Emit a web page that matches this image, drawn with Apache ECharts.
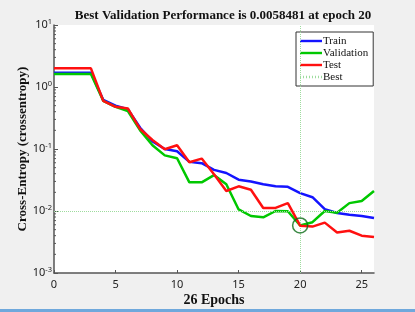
<!DOCTYPE html>
<html>
<head>
<meta charset="utf-8">
<script src="https://cdn.jsdelivr.net/npm/echarts@6/dist/echarts.min.js"></script>
<style>
  html, body { margin: 0; padding: 0; background: #f0f0f0; }
  #main { width: 415px; height: 312px; }
</style>
</head>
<body>
<div id="main"></div>
<script>
// values
var epochs = [0,1,2,3,4,5,6,7,8,9,10,11,12,13,14,15,16,17,18,19,20,21,22,23,24,25,26];
var train = [1.7,1.7,1.7,1.7,0.62,0.50,0.44,0.22,0.133,0.100,0.092,0.062,0.059,0.046,0.041,0.032,0.030,0.027,0.025,0.0245,0.0194,0.0167,0.0107,0.0093,0.0087,0.0083,0.0077];
var validation = [1.62,1.62,1.62,1.62,0.60,0.48,0.41,0.20,0.115,0.079,0.071,0.029,0.029,0.038,0.027,0.0106,0.0083,0.0079,0.0100,0.0099,0.0058481,0.0066,0.0100,0.0094,0.0134,0.0145,0.021];
var test = [2.0,2.0,2.0,2.0,0.60,0.48,0.45,0.21,0.14,0.099,0.115,0.061,0.070,0.039,0.021,0.025,0.022,0.0112,0.0112,0.0134,0.0058,0.0056,0.0065,0.0045,0.0048,0.0040,0.0038];
var bestEpoch = 20;
var bestValue = 0.0058481;
var yTicks = [0.001, 0.01, 0.1, 1, 10];

function pairs(ys) {
  return epochs.map(function (e, i) { return [e, ys[i]]; });
}

// minor ticks of the log axis (2..9 in each decade)
var minorTicks = [];
for (var d = 0; d < yTicks.length - 1; d++) {
  for (var m = 2; m <= 9; m++) minorTicks.push([0, yTicks[d] * m]);
}

var serif = '"Liberation Serif", "DejaVu Serif", serif';
var sans = '"Noto Sans", "DejaVu Sans", sans-serif';

// legend icons: a plain stroke, and a dotted one for "Best"
var solidIcon = 'path://M0,0H22V2.4H0Z';
var dotIcon = 'path://M0,0h1v2.4h-1z M3,0h1v2.4h-1z M6,0h1v2.4h-1z M9,0h1v2.4h-1z M12,0h1v2.4h-1z M15,0h1v2.4h-1z M18,0h1v2.4h-1z M21,0h1v2.4h-1z';

var myChart = echarts.init(document.getElementById('main'));
myChart.setOption({
  backgroundColor: '#f0f0f0',
  animation: false,
  title: {
    text: 'Best Validation Performance is ' + bestValue + ' at epoch ' + bestEpoch,
    left: 218,
    textAlign: 'center',
    top: 4,
    textStyle: { fontFamily: serif, fontWeight: 'bold', fontSize: 13, color: '#111' }
  },
  legend: {
    orient: 'vertical',
    left: 296,
    top: 32,
    padding: [3, 5, 3, 4],
    itemGap: 0,
    itemWidth: 22,
    itemHeight: 2.4,
    backgroundColor: '#fff',
    borderColor: '#333',
    borderWidth: 1,
    data: [
      { name: 'Train', icon: solidIcon },
      { name: 'Validation', icon: solidIcon },
      { name: 'Test', icon: solidIcon },
      { name: 'Best', icon: dotIcon }
    ],
    textStyle: { fontFamily: serif, fontSize: 11, color: '#111', padding: [0, 0, 0, -4], lineHeight: 12 }
  },
  grid: {
    left: 54, right: 41, top: 25, bottom: 38,
    show: true, backgroundColor: '#fff', borderWidth: 0
  },
  xAxis: {
    type: 'value',
    min: 0, max: 26, interval: 5,
    name: '26 Epochs',
    nameLocation: 'middle',
    nameGap: 20,
    nameMoveOverlap: false,
    nameTextStyle: { fontFamily: serif, fontWeight: 'bold', fontSize: 14, color: '#111' },
    axisLine: { lineStyle: { color: '#555', width: 1.5 } },
    axisTick: { inside: true, length: 3, lineStyle: { color: '#555' } },
    axisLabel: { fontFamily: sans, fontSize: 11, color: '#222', margin: 6 },
    splitLine: { show: false }
  },
  yAxis: {
    type: 'log',
    logBase: 10,
    min: 0.001, max: 10,
    name: 'Cross-Entropy (crossentropy)',
    nameLocation: 'middle',
    nameGap: 25,
    nameRotate: 90,
    nameMoveOverlap: false,
    nameTextStyle: { fontFamily: serif, fontWeight: 'bold', fontSize: 13, color: '#111' },
    axisLine: { show: true, lineStyle: { color: '#555', width: 1.5 } },
    axisTick: { show: true, inside: true, length: 4, lineStyle: { color: '#555' } },
    axisLabel: {
      margin: 2,
      formatter: function (v) {
        var e = Math.round(Math.log10(v));
        return '{b|10}{e|' + e + '}';
      },
      rich: {
        b: { fontFamily: sans, fontSize: 11, color: '#222' },
        e: { fontFamily: sans, fontSize: 7.5, color: '#222', padding: [0, 0, 7, 0] }
      }
    },
    splitLine: { show: false }
  },
  series: [
    {
      name: 'Train', type: 'line', data: pairs(train), symbol: 'none',
      lineStyle: { color: '#1414ff', width: 2.5 }, itemStyle: { color: '#1414ff' }, z: 3
    },
    {
      name: 'Validation', type: 'line', data: pairs(validation), symbol: 'none',
      lineStyle: { color: '#00c800', width: 2.5 }, itemStyle: { color: '#00c800' }, z: 4
    },
    {
      name: 'Test', type: 'line', data: pairs(test), symbol: 'none',
      lineStyle: { color: '#ff1010', width: 2.5 }, itemStyle: { color: '#ff1010' }, z: 5
    },
    {
      name: 'Best', type: 'line', data: [], symbol: 'none',
      lineStyle: { color: '#9edc9e', width: 1, type: 'dotted' }, itemStyle: { color: '#9edc9e' },
      markLine: {
        silent: true, symbol: 'none', label: { show: false },
        lineStyle: { color: '#9edc9e', width: 1, type: 'dotted' },
        data: [{ xAxis: bestEpoch }, { yAxis: bestValue }]
      },
      z: 2
    },
    {
      name: 'bestPoint', type: 'scatter', data: [[bestEpoch, bestValue]],
      symbol: 'circle', symbolSize: 15,
      itemStyle: { color: 'rgba(0,0,0,0)', borderColor: '#0b6b16', borderWidth: 1.5 }, z: 6
    },
    {
      name: 'minor', type: 'custom', data: minorTicks, silent: true, z: 1,
      renderItem: function (params, api) {
        var p = api.coord([api.value(0), api.value(1)]);
        return { type: 'line', shape: { x1: p[0], y1: p[1], x2: p[0] + 2, y2: p[1] },
                 style: { stroke: '#555', lineWidth: 1 } };
      }
    }
  ],
  graphic: [
    { type: 'rect', left: 0, top: 309, shape: { width: 415, height: 3 }, style: { fill: '#6fa8dc' } }
  ]
});
</script>
</body>
</html>
